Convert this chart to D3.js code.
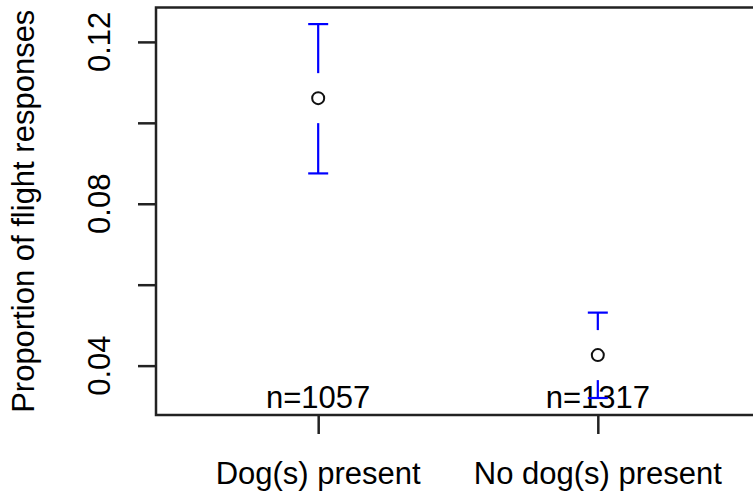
<!DOCTYPE html>
<html>
<head>
<meta charset="utf-8">
<script src="https://cdn.jsdelivr.net/npm/d3@7"></script>
<style>
  html, body { margin: 0; padding: 0; background: #fff; }
  svg { display: block; }
  text { font-family: "Liberation Sans", Arial, sans-serif; fill: #000; }
</style>
</head>
<body>
<svg id="chart" width="753" height="497"></svg>
<script>
// Group means with confidence limits for the proportion of flight responses
const groups = ["Dog(s) present", "No dog(s) present"];
const groupIndex = [1, 2];
const means = [0.1061, 0.0426];
const upper = [0.1244, 0.0531];
const lower = [0.0875, 0.0320];
const counts = [1057, 1317];
const yTicks = [0.04, 0.06, 0.08, 0.10, 0.12];
const yTickLabels = ["0.04", "", "0.08", "", "0.12"];

const svg = d3.select("#chart");
const plot = { left: 156, right: 760, top: 7.5, bottom: 415 };

const x = d3.scaleLinear().domain([0.42, 2.58]).range([plot.left, plot.right]);
const y = d3.scaleLinear().domain([0.0278, 0.1285]).range([plot.bottom, plot.top]);

const fontSize = 31;
const axisColor = "#222";

// y axis with ticks, labels rotated as in base graphics
const yAxis = svg.append("g")
  .attr("transform", `translate(${plot.left},0)`)
  .call(d3.axisLeft(y).tickValues(yTicks).tickSize(18).tickFormat(""));
yAxis.select(".domain").remove();
yAxis.selectAll(".tick line").attr("stroke", axisColor).attr("stroke-width", 2.5);

svg.append("g").selectAll("text")
  .data(yTicks)
  .join("text")
  .attr("transform", (d) => `translate(110,${y(d)}) rotate(-90)`)
  .attr("text-anchor", "middle")
  .attr("font-size", fontSize)
  .text((d, i) => yTickLabels[i]);

// x axis ticks and group names
const xAxis = svg.append("g")
  .attr("transform", `translate(0,${plot.bottom})`)
  .call(d3.axisBottom(x).tickValues(groupIndex).tickSize(19).tickFormat(""));
xAxis.select(".domain").remove();
xAxis.selectAll(".tick line").attr("stroke", axisColor).attr("stroke-width", 2.5);

svg.append("g").selectAll("text")
  .data(groups)
  .join("text")
  .attr("x", (d, i) => x(groupIndex[i]))
  .attr("y", 484)
  .attr("text-anchor", "middle")
  .attr("font-size", fontSize)
  .text((d) => d);

// y axis title
svg.append("text")
  .attr("transform", `translate(34,${(plot.top + plot.bottom) / 2}) rotate(-90)`)
  .attr("text-anchor", "middle")
  .attr("font-size", fontSize)
  .text("Proportion of flight responses");

// sample sizes along the bottom of the panel
svg.append("g").selectAll("text")
  .data(counts)
  .join("text")
  .attr("x", (d, i) => x(groupIndex[i]))
  .attr("y", 408)
  .attr("text-anchor", "middle")
  .attr("font-size", fontSize)
  .text((d) => "n=" + d);

// error bars with a gap around each mean
const gap = 25, capHalf = 10;
const bars = svg.append("g").attr("stroke", "#0000ff").attr("stroke-width", 2.2).attr("fill", "none");
groupIndex.forEach((g, i) => {
  const cx = x(g), cy = y(means[i]);
  const yu = y(upper[i]), yl = y(lower[i]);
  bars.append("line").attr("x1", cx).attr("x2", cx).attr("y1", yu).attr("y2", cy - gap);
  bars.append("line").attr("x1", cx).attr("x2", cx).attr("y1", cy + gap).attr("y2", yl);
  bars.append("line").attr("x1", cx - capHalf).attr("x2", cx + capHalf).attr("y1", yu).attr("y2", yu);
  bars.append("line").attr("x1", cx - capHalf).attr("x2", cx + capHalf).attr("y1", yl).attr("y2", yl);
});

// group means as open circles
svg.append("g").selectAll("circle")
  .data(means)
  .join("circle")
  .attr("cx", (d, i) => x(groupIndex[i]))
  .attr("cy", (d) => y(d))
  .attr("r", 6)
  .attr("fill", "none")
  .attr("stroke", "#111")
  .attr("stroke-width", 2);

// panel frame
svg.append("rect")
  .attr("x", plot.left)
  .attr("y", plot.top)
  .attr("width", plot.right - plot.left)
  .attr("height", plot.bottom - plot.top)
  .attr("fill", "none")
  .attr("stroke", axisColor)
  .attr("stroke-width", 2.5);
</script>
</body>
</html>
